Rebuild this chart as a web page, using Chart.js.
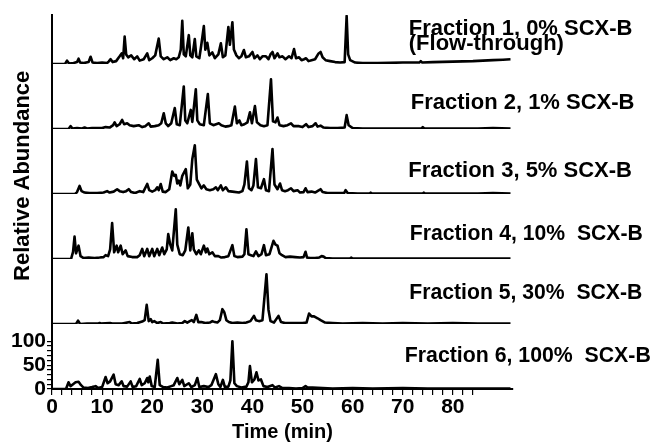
<!DOCTYPE html>
<html>
<head>
<meta charset="utf-8">
<script src="https://cdn.jsdelivr.net/npm/chart.js@4.4.1/dist/chart.umd.min.js"></script>
<style>
  html, body { margin: 0; padding: 0; background: #ffffff; }
  canvas { display: block; }
</style>
</head>
<body>
<canvas id="c" width="651" height="445"></canvas>
<script>
// ---- Data: [retention time (min), relative abundance] ----
const fraction1 = [[0,0],[2.6,0],[3,7],[3.4,1],[4.3,2],[5,4],[5.3,11],[5.6,3],[6.3,2],[7.3,4],[7.7,15],[8.1,3],[9,2],[10,3],[11,2],[11.3,5],[11.7,10],[12.1,4],[12.8,6],[13.5,16],[13.9,22],[14.2,12],[14.5,57],[14.8,20],[15.2,14],[15.8,18],[16.4,10],[17,16],[17.5,7],[18.3,10],[19,22],[19.4,8],[20,12],[20.6,18],[21.3,53],[21.7,16],[22.3,10],[23,14],[23.6,8],[24.3,12],[24.8,10],[25.3,14],[25.7,30],[26,90],[26.3,20],[26.7,16],[27.3,60],[27.6,18],[28,14],[28.5,52],[28.8,16],[29.4,12],[29.8,40],[30.3,79],[30.6,30],[31,44],[31.4,18],[32,24],[32.5,12],[33.2,20],[33.7,43],[34.1,14],[34.6,18],[35.2,77],[35.5,40],[36,87],[36.3,30],[36.8,18],[37.3,12],[37.8,16],[38.3,29],[38.7,14],[39.3,16],[40,25],[40.4,12],[41,18],[41.5,10],[42,16],[42.7,16],[43.2,10],[43.6,20],[44,25],[44.4,12],[45,22],[45.4,14],[46,16],[46.6,10],[47.3,16],[47.8,12],[48.3,31],[48.7,12],[49.3,14],[49.8,8],[50.3,10],[50.7,12],[51.2,6],[51.8,8],[52.5,10],[53.2,22],[53.6,25],[54,14],[54.6,8],[55.5,6],[56.5,4],[57.5,3],[58.4,4],[58.8,100],[59.1,20],[59.5,8],[60.5,3],[62,2],[65,2],[70,3],[73.3,3],[73.6,6],[73.9,3],[76,4],[80,5],[84,6],[88,8],[90,9],[91.5,10]];

const fraction2 = [[0,0],[3.3,0],[3.7,6],[4.1,1],[5,2],[6,1],[6.5,3],[7,1],[8,2],[10,2],[10.7,4],[11.5,3],[12.2,8],[12.5,14],[12.9,6],[13.5,10],[14,19],[14.4,10],[15,12],[15.5,8],[16.3,6],[17.3,8],[18,4],[18.6,6],[19.3,12],[19.7,5],[20.5,6],[21.3,8],[21.8,12],[22.3,33],[22.7,12],[23.2,6],[23.8,12],[24.5,44],[24.9,10],[25.5,8],[26.3,89],[26.6,18],[27,12],[27.7,40],[28,15],[28.7,83],[29,18],[29.5,10],[30.3,8],[31.1,73],[31.5,12],[32.2,8],[33.3,12],[33.8,8],[34.6,5],[35.2,6],[35.8,8],[36.5,47],[36.9,12],[37.4,18],[37.8,8],[38.4,10],[39,14],[39.5,35],[39.9,12],[40.5,48],[40.9,14],[41.6,8],[42.3,6],[43,8],[43.7,104],[44.1,16],[44.6,14],[45,24],[45.4,8],[46.2,6],[47,8],[47.7,12],[48.2,6],[49.3,6],[50,4],[50.7,10],[51.2,4],[52,6],[52.6,12],[53,5],[53.6,7],[54.2,3],[55.5,2],[57,2],[58.4,3],[58.8,29],[59.2,8],[60,2],[62,1],[66,1],[70,1],[73.7,1],[74,4],[74.3,1],[80,1],[85,1],[88,2],[91.5,1]];

const fraction3 = [[0,0],[4.6,0],[5,4],[5.5,17],[5.9,6],[6.5,3],[7.5,2],[9,2],[10.3,3],[11,6],[11.5,3],[12.3,5],[13,10],[13.5,6],[14.2,4],[14.8,6],[15.3,10],[15.8,4],[16.6,2],[17.5,6],[18.2,4],[19,21],[19.4,8],[20,5],[20.6,8],[21,14],[21.3,8],[21.7,21],[22.1,5],[22.7,4],[23.4,10],[24,47],[24.4,38],[24.7,40],[25,22],[25.3,28],[25.6,18],[26,38],[26.7,52],[27.1,12],[27.6,20],[28,73],[28.5,102],[28.9,30],[29.4,20],[29.8,12],[30.3,18],[30.8,10],[31.5,8],[32.2,10],[32.7,14],[33.1,8],[33.7,18],[34.1,8],[34.7,14],[35.2,6],[36,5],[37.3,3],[38,6],[38.4,20],[38.9,68],[39.3,12],[39.8,8],[40.2,18],[40.7,73],[41.1,14],[41.7,12],[42.3,31],[42.7,8],[43.3,6],[44,94],[44.4,20],[45,10],[45.5,22],[45.9,8],[46.5,6],[47.1,8],[47.7,12],[48.2,6],[49,8],[49.5,3],[50.2,4],[50.6,12],[51,4],[51.8,5],[52.5,3],[53.3,8],[53.6,10],[54,4],[55,2],[56,2],[58.3,2],[58.6,8],[59,2],[61,1],[63.4,1],[63.6,3],[63.8,1],[70,1],[74,1],[74.2,3],[74.4,1],[80,1],[85,1],[88,2],[91.5,1]];

const fraction4 = [[0,0],[3.8,0],[4.2,15],[4.5,47],[4.8,12],[5.3,28],[5.7,6],[6.3,2],[7.3,3],[8.5,2],[9.5,3],[10.3,4],[10.7,8],[11.2,6],[11.6,20],[12,75],[12.4,14],[12.9,28],[13.2,14],[13.7,28],[14.1,10],[14.7,18],[15.1,6],[16,4],[17,4],[17.5,8],[18,21],[18.4,6],[19,21],[19.4,6],[20,21],[20.4,6],[21,21],[21.4,8],[22,24],[22.4,10],[22.9,20],[23.2,52],[23.6,30],[24,18],[24.7,104],[25,30],[25.5,10],[26.1,8],[26.6,18],[27.2,66],[27.6,18],[28,54],[28.3,20],[28.8,10],[29.3,18],[29.7,10],[30.3,28],[30.7,14],[31,22],[31.4,10],[32,14],[32.5,6],[33.2,6],[33.8,3],[34.5,4],[35.2,6],[36,29],[36.4,6],[37,4],[38,5],[38.4,10],[38.8,62],[39.2,10],[39.7,8],[40.2,6],[40.7,16],[41.2,6],[41.8,10],[42.3,29],[42.7,8],[43.4,10],[44.2,38],[44.6,30],[45,28],[45.4,12],[45.9,8],[46.6,4],[47.5,5],[48.5,4],[49.5,3],[50.2,4],[50.6,15],[50.9,3],[51.5,2],[52.5,2],[53.3,3],[53.8,6],[54.2,5],[54.6,2],[56,1],[58,1],[59.5,1],[59.7,3],[60,1],[65,1],[75,1],[85,1],[91.5,1]];

const fraction5 = [[0,0],[4.8,0],[5.2,7],[5.6,0],[7,1],[9.3,1],[9.5,2],[9.7,1],[11.6,2],[12,1],[14,1],[15.5,4],[15.9,1],[17,2],[18,5],[18.5,8],[18.9,40],[19.3,6],[19.7,10],[20,4],[20.4,6],[21,2],[21.7,4],[22.2,1],[23.5,2],[24,3],[25,1],[26,2],[26.5,6],[27,3],[27.5,6],[27.9,8],[28.3,4],[28.8,19],[29.2,4],[29.8,4],[30.6,2],[31.5,3],[32,6],[32.5,4],[33,3],[33.5,8],[34,31],[34.4,24],[34.8,8],[35.3,4],[36,2],[37,3],[38,2],[38.8,3],[39.6,6],[40.3,17],[40.7,8],[41.3,6],[42,8],[42.8,104],[43.2,30],[43.6,6],[44.3,3],[45.2,17],[45.7,4],[46.5,2],[48,2],[50,2],[50.8,3],[51.3,22],[51.8,16],[52.3,16],[53,12],[53.6,8],[54.5,3],[56,2],[58,1],[62,2],[66,1],[70,2],[75,1],[80,2],[85,1],[91.5,1]];

const fraction6 = [[0,0],[2.8,0],[3.3,14],[3.7,6],[4.2,10],[4.7,14],[5.3,15],[5.8,8],[6.3,3],[7.2,2],[8,4],[8.7,6],[9.2,2],[10,4],[10.7,25],[11.1,12],[11.6,16],[12.3,30],[12.7,10],[13.3,8],[13.9,16],[14.3,6],[15,5],[15.7,16],[16.1,4],[16.8,6],[17.5,21],[17.9,8],[18.5,12],[19,23],[19.2,14],[19.5,26],[19.9,6],[20.5,4],[21.1,61],[21.5,8],[22.2,4],[23,3],[23.8,6],[24.3,8],[25,23],[25.4,10],[26,19],[26.4,6],[27.3,12],[27.8,4],[28.5,8],[29,23],[29.4,4],[30.3,6],[31.2,4],[31.8,8],[32.7,31],[33.2,10],[33.6,4],[34.1,19],[34.5,4],[35.2,5],[35.6,18],[36,100],[36.4,12],[36.9,6],[37.8,3],[38.8,5],[39.2,14],[39.5,48],[39.9,14],[40.4,20],[40.8,35],[41.2,18],[41.7,20],[42.2,6],[43,4],[44,8],[44.5,3],[45.3,6],[46,2],[47.3,2],[48.7,1],[50,2],[50.6,6],[51,3],[52,3],[54,2],[56,1],[60,2],[64,1],[70,2],[75,1],[80,1],[85,1],[91.5,1]];

const fractionLabels = [
  ["Fraction 1, 0% SCX-B", "(Flow-through)"],
  ["Fraction 2, 1% SCX-B"],
  ["Fraction 3, 5% SCX-B"],
  ["Fraction 4, 10%  SCX-B"],
  ["Fraction 5, 30%  SCX-B"],
  ["Fraction 6, 100%  SCX-B"]
];
const yTickLabels = [0, 50, 100];
const xTickLabels = [0, 10, 20, 30, 40, 50, 60, 70, 80];
const xTitle = "Time (min)";
const yTitle = "Relative Abundance";

// ---- Layout / style (kept separate from data) ----
const series = [fraction1, fraction2, fraction3, fraction4, fraction5, fraction6];
const labelAnchor = [ // [time of left edge, abundance of first line, abundance of next line]
  [71.2, 74, 41], [71.6, 54], [71.1, 49], [71.4, 53], [71.3, 66], [70.4, 69]
];
const labelMaxWidth = [230, 226, 226, 233, 233, 246];
const FONT = "'Liberation Sans', Arial, Helvetica, sans-serif";

const datasets = series.map((s, i) => ({
  label: fractionLabels[i][0],
  data: s.map(p => ({x: p[0], y: p[1]})),
  yAxisID: 'y' + (i + 1),
  borderColor: '#000',
  borderWidth: 2.6,
  borderJoinStyle: 'round',
  pointRadius: 0,
  tension: 0,
  fill: false
}));

const scales = {
  x: {
    type: 'linear', min: 0, max: 92,
    ticks: {
      stepSize: 2, autoSkip: false, maxRotation: 0, padding: 0,
      color: '#000', font: {family: FONT, size: 21, weight: 'bold'},
      callback: v => xTickLabels.includes(v) ? String(v) : ''
    },
    afterBuildTicks: s => { s.ticks = s.ticks.filter(t => t.value <= 84); },
    grid: {drawOnChartArea: false, drawTicks: true, tickLength: 6, color: '#000', lineWidth: 1.2},
    border: {display: true, color: '#000', width: 2},
    title: {display: true, text: xTitle, color: '#000', font: {family: FONT, size: 20, weight: 'bold'}, padding: {top: 0, bottom: 1}},
    afterFit: s => { s.height = 56; }
  }
};
// Bottom panel defined first so it stacks at the bottom
for (let i = 6; i >= 1; i--) {
  const isBottom = i === 6;
  scales['y' + i] = {
    type: 'linear', position: 'left', stack: 'panels',
    stackWeight: i === 1 ? 0.754 : 1,
    min: 0, max: i === 1 ? 102 : 136,
    offset: false,
    ticks: isBottom ? {
      display: true, stepSize: 10, autoSkip: false, padding: 1,
      color: '#000', font: {family: FONT, size: 21, weight: 'bold'},
      callback: v => yTickLabels.includes(v) ? String(v) : ''
    } : {display: false},
    afterBuildTicks: isBottom ? (s => { s.ticks = s.ticks.filter(t => t.value <= 100); }) : undefined,
    grid: isBottom ? {drawOnChartArea: false, drawTicks: true, tickLength: 5, color: '#000', lineWidth: 1.2} : {display: false},
    border: {display: true, color: '#000', width: 2},
    afterFit: s => { s.width = 52; }
  };
}

const annotatePlugin = {
  id: 'annotate',
  afterDraw(chart) {
    const ctx = chart.ctx;
    const xs = chart.scales.x;
    ctx.save();
    ctx.fillStyle = '#000';
    ctx.font = 'bold 22px ' + FONT;
    ctx.textAlign = 'left';
    ctx.textBaseline = 'middle';
    fractionLabels.forEach((lines, i) => {
      const ys = chart.scales['y' + (i + 1)];
      const a = labelAnchor[i];
      lines.forEach((t, j) => {
        ctx.fillText(t, xs.getPixelForValue(a[0]), ys.getPixelForValue(a[1 + j]), labelMaxWidth[i]);
      });
    });
    // y-axis title
    const ca = chart.chartArea;
    ctx.translate(23, ca.top + (ca.bottom - ca.top) * 0.43);
    ctx.rotate(-Math.PI / 2);
    ctx.textAlign = 'center';
    ctx.font = 'bold 22px ' + FONT;
    ctx.fillText(yTitle, 0, 0);
    ctx.restore();
  }
};

new Chart(document.getElementById('c'), {
  type: 'line',
  data: {datasets},
  options: {
    responsive: false,
    animation: false,
    layout: {padding: {left: 0, right: 138, top: 15, bottom: 0}},
    plugins: {legend: {display: false}, tooltip: {enabled: false}},
    scales
  },
  plugins: [annotatePlugin]
});
</script>
</body>
</html>
